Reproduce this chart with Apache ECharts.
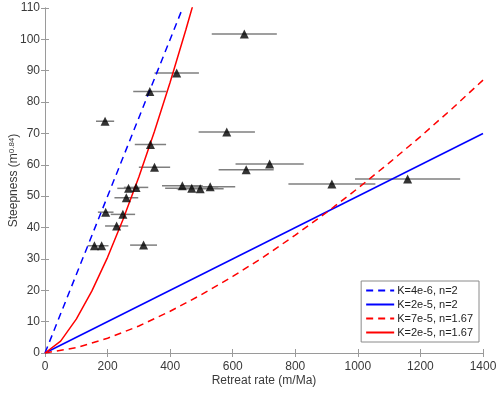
<!DOCTYPE html>
<html>
<head>
<meta charset="utf-8">
<script src="https://cdn.jsdelivr.net/npm/echarts@6/dist/echarts.min.js"></script>
<style>
  html, body { margin: 0; padding: 0; background: #fff; }
  #chart { width: 500px; height: 394px; }
</style>
</head>
<body>
<div id="chart"></div>
<script>
// measured points (retreat rate, steepness) with horizontal error half-widths
var rateVals  = [637, 421, 335, 192, 581, 337, 350, 718, 643, 1159, 917, 439, 469, 496, 528, 267, 291, 260, 194, 249, 229, 158, 181, 315];
var steepVals = [101.7, 89.3, 83.4, 73.9, 70.5, 66.5, 59.2, 60.3, 58.4, 55.5, 53.9, 53.3, 52.5, 52.4, 53.0, 52.5, 52.8, 49.5, 44.9, 44.2, 40.5, 34.2, 34.2, 34.4];
var rateErr   = [104, 71, 53, 29, 90, 50, 50, 109, 88, 168, 139, 65, 85, 75, 80, 36, 39, 38, 25, 39, 37, 22, 22, 43];

// model curves: [rate, steepness]
var curveK4e6n2   = [[0, 0], [440, 110]];
var curveK2e5n2   = [[0, 0], [1400, 70]];
var curveK7e5n167 = [[0, 0], [100, 1.7], [200, 4.7], [300, 8.6], [400, 13.3], [500, 18.6], [600, 24.4], [700, 30.7], [800, 37.6], [900, 44.8], [1000, 52.5], [1100, 60.6], [1200, 69], [1300, 77.8], [1400, 87]];
var curveK2e5n167 = [[0, 0], [50, 3.8], [100, 10.8], [150, 19.8], [200, 30.5], [250, 42.7], [300, 56.1], [350, 70.7], [400, 86.3], [450, 103], [475, 111.7]];

var legendNames = ['K=4e-6, n=2', 'K=2e-5, n=2', 'K=7e-5, n=1.67', 'K=2e-5, n=1.67'];

var axisGray = '#9a9a9a';
var textGray = '#3a3a3a';
var font = 'Liberation Sans, Arial, sans-serif';

var pts = rateVals.map(function (r, i) { return [r, steepVals[i]]; });
var bars = rateVals.map(function (r, i) { return [r, steepVals[i], r - rateErr[i], r + rateErr[i]]; });

var chart = echarts.init(document.getElementById('chart'));

function lineSeries(name, data, color, dashed) {
    return {
        name: name,
        type: 'line',
        data: data,
        symbol: 'none',
        showSymbol: false,
        clip: true,
        lineStyle: { color: color, width: 1.5, type: dashed ? [7, 5] : 'solid' },
        itemStyle: { color: color },
        z: 3
    };
}

var option = {
    animation: false,
    grid: { left: 45, right: 17, top: 8, bottom: 41, containLabel: false, outerBoundsMode: 'none' },
    legend: {
        data: legendNames,
        orient: 'vertical',
        right: 21,
        bottom: 52,
        itemWidth: 28,
        itemHeight: 10,
        itemGap: 3,
        padding: [4, 6, 4, 4],
        backgroundColor: '#fff',
        borderColor: '#8a8a8a',
        borderWidth: 1,
        itemStyle: { opacity: 0 },
        textStyle: { fontFamily: font, fontSize: 11, color: '#222', padding: [0, 0, 0, -2] }
    },
    xAxis: [{
        type: 'value',
        min: 0, max: 1400, interval: 200,
        name: 'Retreat rate (m/Ma)',
        nameLocation: 'middle',
        nameGap: 22,
        nameMoveOverlap: false,
        nameTextStyle: { fontFamily: font, fontSize: 12, color: textGray },
        axisLine: { show: true, lineStyle: { color: axisGray } },
        axisTick: { inside: true, length: 4, lineStyle: { color: axisGray } },
        axisLabel: { fontFamily: font, fontSize: 12, color: textGray, margin: 8, formatter: function (v) { return String(v); } },
        splitLine: { show: false }
    }, {
        type: 'value', position: 'top',
        min: 0, max: 1400, interval: 200,
        axisLine: { show: true, lineStyle: { color: axisGray } },
        axisTick: { inside: true, length: 4, lineStyle: { color: axisGray } },
        axisLabel: { show: false },
        splitLine: { show: false }
    }],
    yAxis: [{
        type: 'value',
        min: 0, max: 110, interval: 10,
        name: '{a|Steepness (m}{s|0.84}{a|)}',
        nameLocation: 'middle',
        nameGap: 25,
        nameMoveOverlap: false,
        nameTextStyle: {
            rich: {
                a: { fontFamily: font, fontSize: 12, color: textGray },
                s: { fontFamily: font, fontSize: 8, color: textGray, verticalAlign: 'top' }
            }
        },
        axisLine: { show: true, lineStyle: { color: axisGray } },
        axisTick: { inside: true, length: 4, lineStyle: { color: axisGray } },
        axisLabel: { fontFamily: font, fontSize: 12, color: textGray, margin: 5 },
        splitLine: { show: false }
    }, {
        type: 'value', position: 'right',
        min: 0, max: 110, interval: 10,
        axisLine: { show: true, lineStyle: { color: axisGray } },
        axisTick: { inside: true, length: 4, lineStyle: { color: axisGray } },
        axisLabel: { show: false },
        splitLine: { show: false }
    }],
    series: [
        lineSeries(legendNames[0], curveK4e6n2, '#0000ff', true),
        lineSeries(legendNames[1], curveK2e5n2, '#0000ff', false),
        lineSeries(legendNames[2], curveK7e5n167, '#ff0000', true),
        lineSeries(legendNames[3], curveK2e5n167, '#ff0000', false),
        {
            name: 'errors',
            type: 'custom',
            data: bars,
            encode: { x: [2, 3], y: 1 },
            z: 2,
            renderItem: function (params, api) {
                var a = api.coord([api.value(2), api.value(1)]);
                var b = api.coord([api.value(3), api.value(1)]);
                return {
                    type: 'line',
                    shape: { x1: a[0], y1: a[1], x2: b[0], y2: b[1] },
                    style: { stroke: '#7f7f7f', lineWidth: 1.5 }
                };
            }
        },
        {
            name: 'data',
            type: 'scatter',
            data: pts,
            symbol: 'triangle',
            symbolSize: 9,
            itemStyle: { color: '#000' },
            z: 4
        }
    ]
};

chart.setOption(option);
</script>
</body>
</html>
